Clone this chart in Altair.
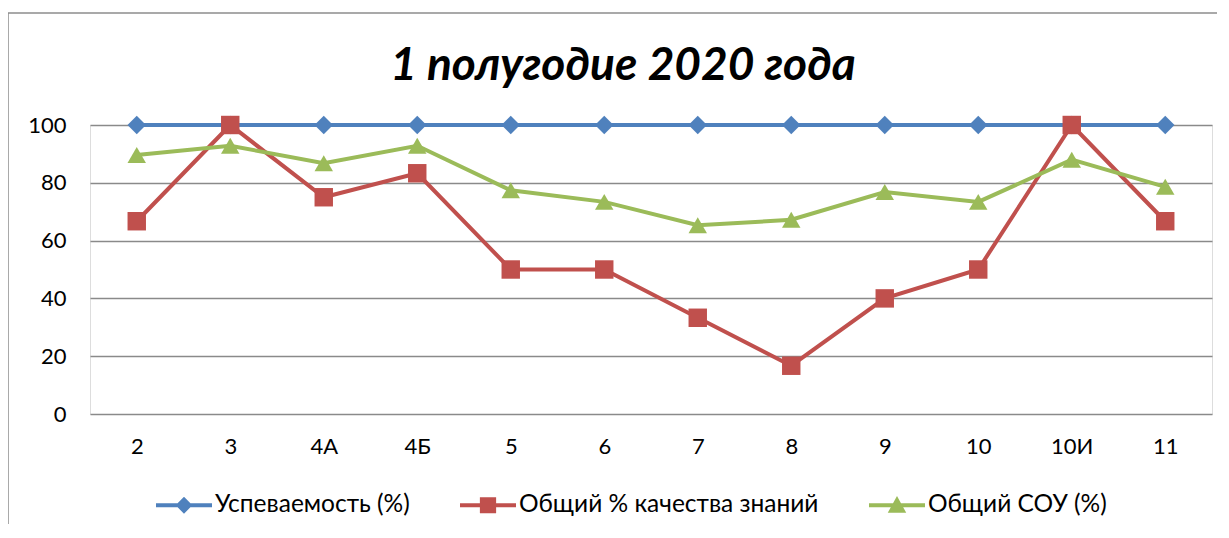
import altair as alt
import pandas as pd

title_text = ["1 полугодие 2020 года"]
classes = ["2", "3", "4А", "4Б", "5", "6", "7", "8", "9", "10", "10И", "11"]
uspevaemost = [100, 100, 100, 100, 100, 100, 100, 100, 100, 100, 100, 100]
kachestvo = [66.7, 100, 75, 83.3, 50, 50, 33.3, 16.7, 40, 50, 100, 66.7]
sou = [89.6, 92.8, 86.8, 92.8, 77.4, 73.4, 65.3, 67.2, 76.8, 73.4, 88.0, 78.6]

series = ["Успеваемость (%)", "Общий % качества знаний", "Общий СОУ (%)"]
colors = ["#4F81BD", "#C0504D", "#9BBB59"]

rows = []
for s, vals in zip(series, [uspevaemost, kachestvo, sou]):
    for c, v in zip(classes, vals):
        rows.append({"cls": c, "series": s, "value": v})
df = pd.DataFrame(rows)
title_df = pd.DataFrame({"t": title_text})

FONT = "Lato"
FS = 22
W, H = 1122, 289

x = alt.X("cls:N", sort=classes, title=None,
          scale=alt.Scale(type="point", padding=0.5),
          axis=alt.Axis(labelAngle=0, domain=False, ticks=False, labelPadding=22,
                        labelFontSize=FS, labelFont=FONT, labelColor="#000000", grid=False))
y = alt.Y("value:Q", title=None,
          scale=alt.Scale(domain=[0, 100], nice=False),
          axis=alt.Axis(values=[0, 20, 40, 60, 80, 100], domain=False, ticks=False,
                        labelPadding=24, labelFontSize=FS, labelFont=FONT, labelColor="#000000",
                        grid=True, gridColor="#8A8A8A", gridWidth=1.5))
color_scale = alt.Scale(domain=series, range=colors)

base = alt.Chart(df)

lines = base.mark_line(strokeWidth=4).encode(
    x=x, y=y,
    color=alt.Color("series:N", scale=color_scale, legend=None),
    order=alt.Order("series:N"),
)

points = base.mark_point(filled=True, opacity=1, size=340).encode(
    x=x, y=y,
    color=alt.Color("series:N", scale=color_scale, legend=None),
    shape=alt.Shape("series:N", scale=alt.Scale(domain=series, range=["diamond", "square", "triangle-up"]),
                    legend=None),
)

bar = "M-1,-0.075L1,-0.075L1,0.075L-1,0.075Z "
leg_paths = [
    bar + "M0,-0.3L0.3,0L0,0.3L-0.3,0Z",
    bar + "M-0.29,-0.29L0.29,-0.29L0.29,0.29L-0.29,0.29Z",
    bar + "M0,-0.33L0.33,0.27L-0.33,0.27Z",
]
legend = alt.Legend(orient="none", legendX=66, legendY=352, direction="horizontal", title=None,
                    symbolSize=3136, symbolStrokeWidth=0, labelFontSize=24.5, labelFont=FONT,
                    labelColor="#000000", labelOffset=3, labelLimit=500, columnPadding=50, padding=0)

legend_layer = base.transform_filter("false").mark_point(filled=True, opacity=1).encode(
    x=x, y=y,
    color=alt.Color("series:N", scale=color_scale, legend=legend),
    shape=alt.Shape("series:N", scale=alt.Scale(domain=series, range=leg_paths), legend=legend),
)

frame_left = alt.Chart(title_df).mark_rule(color="#8C8C8C", strokeWidth=1.5).encode(
    x=alt.value(-82), y=alt.value(-112), y2=alt.value(H + 200))
frame_top = alt.Chart(title_df).mark_rule(color="#8C8C8C", strokeWidth=1.5).encode(
    x=alt.value(-82), x2=alt.value(W + 40), y=alt.value(-112))

title_mark = alt.Chart(title_df).mark_text(
    font=FONT, fontSize=46, fontWeight="bold", fontStyle="italic", color="#000000",
    align="center", baseline="alphabetic"
).encode(x=alt.value(W / 2 - 28), y=alt.value(-45), text="t:N")

chart = alt.layer(frame_left, frame_top, title_mark, lines, points, legend_layer).resolve_scale(
    color="independent", shape="independent"
).properties(
    width=W, height=H,
    autosize=alt.AutoSizeParams(type="none"),
    padding={"left": 82, "top": 117, "right": 5, "bottom": 110},
).configure_view(stroke=None).configure(background="#FFFFFF")

chart.save("out.html", embed_options={"renderer": "svg", "actions": False})
